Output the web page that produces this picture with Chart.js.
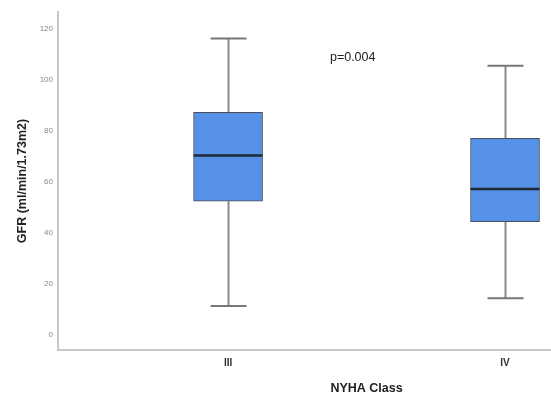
<!DOCTYPE html>
<html>
<head>
<meta charset="utf-8">
<script src="https://cdn.jsdelivr.net/npm/chart.js@4"></script>
<style>
html,body{margin:0;padding:0;background:#fff;}
#wrap{width:551px;height:394px;}
</style>
</head>
<body>
<div id="wrap"><canvas id="c" width="551" height="394"></canvas></div>
<script>
const categories = ['III', 'IV'];
const positions = [1, 2];
const whiskerLow = [11.4, 14.4];
const q1 = [52.5, 44.4];
const median = [70.4, 57.3];
const q3 = [87.3, 77.1];
const whiskerHigh = [116.3, 105.6];
const yTicks = [0, 20, 40, 60, 80, 100, 120];
const pLabel = 'p=0.004';
const pLabelPos = {x: 1.45, y: 108.8};
const xTitle = 'NYHA Class';
const yTitle = 'GFR (ml/min/1.73m2)';

const FONT = '"Liberation Sans", Arial, sans-serif';

const boxPlugin = {
  id: 'boxParts',
  beforeDatasetsDraw(chart) {
    const ctx = chart.ctx;
    const xs = chart.scales.x, ys = chart.scales.y;
    ctx.save();
    for (let i = 0; i < positions.length; i++) {
      const cx = Math.round(xs.getPixelForValue(positions[i])) + 0.5;
      ctx.strokeStyle = '#8a8a8a';
      ctx.lineWidth = 2;
      ctx.beginPath();
      ctx.moveTo(cx, ys.getPixelForValue(whiskerHigh[i]));
      ctx.lineTo(cx, ys.getPixelForValue(q3[i]));
      ctx.moveTo(cx, ys.getPixelForValue(q1[i]));
      ctx.lineTo(cx, ys.getPixelForValue(whiskerLow[i]));
      ctx.stroke();
      ctx.strokeStyle = '#777';
      ctx.beginPath();
      const capHalf = 18;
      [whiskerHigh[i], whiskerLow[i]].forEach(v => {
        const y = ys.getPixelForValue(v);
        ctx.moveTo(cx - capHalf, y);
        ctx.lineTo(cx + capHalf, y);
      });
      ctx.stroke();
    }
    ctx.restore();
  },
  afterDatasetsDraw(chart) {
    const ctx = chart.ctx;
    const xs = chart.scales.x, ys = chart.scales.y;
    ctx.save();
    for (let i = 0; i < positions.length; i++) {
      const cx = xs.getPixelForValue(positions[i]);
      const y = ys.getPixelForValue(median[i]);
      ctx.strokeStyle = '#1f2a36';
      ctx.lineWidth = 2.5;
      ctx.beginPath();
      ctx.moveTo(cx - 34.5, y);
      ctx.lineTo(cx + 34.5, y);
      ctx.stroke();
    }
    ctx.fillStyle = '#222';
    ctx.font = '12.5px ' + FONT;
    ctx.textAlign = 'center';
    ctx.textBaseline = 'middle';
    ctx.fillText(pLabel, xs.getPixelForValue(pLabelPos.x), ys.getPixelForValue(pLabelPos.y));
    // x axis title, centred between the categories
    ctx.font = 'bold 12.5px ' + FONT;
    const mid = (xs.getPixelForValue(positions[0]) + xs.getPixelForValue(positions[positions.length - 1])) / 2;
    ctx.fillText(xTitle, mid, 388.5);
    ctx.restore();
  }
};

new Chart(document.getElementById('c'), {
  type: 'bar',
  data: {
    datasets: [{
      data: positions.map((p, i) => ({x: p, y: [q1[i], q3[i]]})),
      backgroundColor: '#5591e6',
      borderColor: '#4a4f57',
      borderWidth: 1,
      borderSkipped: false,
      barThickness: 69
    }]
  },
  options: {
    responsive: false,
    animation: false,
    devicePixelRatio: 1,
    layout: {padding: {left: 0, right: 0, top: 12, bottom: 0}},
    plugins: {legend: {display: false}, tooltip: {enabled: false}},
    scales: {
      x: {
        type: 'linear',
        offset: false,
        min: 0.386,
        max: 2.166,
        afterBuildTicks(scale) { scale.ticks = positions.map(v => ({value: v})); },
        afterFit(scale) { scale.height = 44; },
        grid: {display: false, drawTicks: false, offset: false},
        border: {display: true, color: '#c8c8c8', width: 2},
        ticks: {
          padding: 7,
          color: '#333',
          font: {family: FONT, size: 10, weight: 'bold'},
          callback(v) { const i = positions.indexOf(v); return i >= 0 ? categories[i] : ''; }
        },
        title: {display: false}
      },
      y: {
        type: 'linear',
        min: -5.9,
        max: 126.7,
        afterBuildTicks(scale) { scale.ticks = yTicks.map(v => ({value: v})); },
        afterFit(scale) { scale.width = 58; },
        grid: {display: false, drawTicks: false},
        border: {display: true, color: '#c8c8c8', width: 2},
        ticks: {
          padding: 5,
          color: '#888',
          font: {family: FONT, size: 8}
        },
        title: {
          display: true,
          text: yTitle,
          color: '#222',
          font: {family: FONT, size: 12.5, weight: 'bold'},
          padding: {top: 15.5, bottom: 0}
        }
      }
    }
  },
  plugins: [boxPlugin]
});
</script>
</body>
</html>
